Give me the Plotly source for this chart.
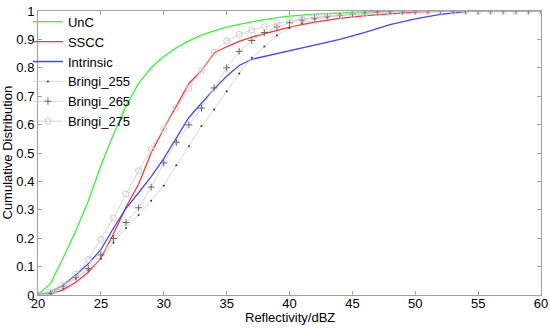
import plotly.graph_objects as go

# ---- data ----
unc_x = [20, 21, 22, 23, 24, 25, 26, 27, 28, 29, 30, 31, 32, 33, 34, 35, 36, 37, 38, 39, 40, 42, 44, 46, 48, 50, 55, 60]
unc_y = [0, 0.04, 0.13, 0.225, 0.33, 0.455, 0.565, 0.665, 0.745, 0.80, 0.84, 0.87, 0.895, 0.915, 0.93, 0.943, 0.953, 0.962, 0.970, 0.977, 0.982, 0.989, 0.994, 0.997, 0.999, 1.0, 1.0, 1.0]

sscc_x = [20, 21, 22, 23, 24, 25, 26, 27, 28, 29, 30, 31, 32, 33, 34, 35, 36, 37, 38, 40, 42, 44, 46, 48, 50, 52, 55, 60]
sscc_y = [0, 0.005, 0.018, 0.045, 0.08, 0.13, 0.215, 0.31, 0.39, 0.50, 0.585, 0.665, 0.745, 0.79, 0.852, 0.874, 0.893, 0.908, 0.92, 0.943, 0.961, 0.974, 0.984, 0.991, 0.996, 0.999, 1.0, 1.0]

intr_x = [20, 21, 22, 23, 24, 25, 26, 27, 28, 29, 30, 31, 32, 33, 34, 35, 36, 37, 38, 40, 42, 44, 46, 48, 50, 52, 54, 55, 60]
intr_y = [0, 0.01, 0.035, 0.07, 0.11, 0.16, 0.235, 0.305, 0.36, 0.417, 0.48, 0.555, 0.625, 0.675, 0.725, 0.77, 0.808, 0.83, 0.84, 0.858, 0.878, 0.9, 0.925, 0.952, 0.972, 0.988, 0.998, 1.0, 1.0]

bringi_x = list(range(20, 61))
b255_y = [0, 0.003, 0.025, 0.058, 0.087, 0.128, 0.184, 0.236, 0.282, 0.332, 0.385, 0.457, 0.524, 0.595, 0.653, 0.717,
          0.78, 0.835, 0.875, 0.914, 0.940, 0.958, 0.970, 0.978, 0.984, 0.988, 0.992, 0.995, 0.997, 0.998, 0.999,
          1, 1, 1, 1, 1, 1, 1, 1, 1, 1]
b265_y = [0, 0.005, 0.029, 0.063, 0.093, 0.141, 0.199, 0.255, 0.307, 0.38, 0.465, 0.538, 0.599, 0.658, 0.729, 0.80,
          0.858, 0.896, 0.924, 0.944, 0.958, 0.968, 0.975, 0.981, 0.985, 0.989, 0.992, 0.995, 0.997, 0.998, 0.999,
          1, 1, 1, 1, 1, 1, 1, 1, 1, 1]
b275_y = [0, 0.01, 0.036, 0.074, 0.125, 0.196, 0.271, 0.356, 0.438, 0.514, 0.585, 0.66, 0.728, 0.79, 0.855, 0.894,
          0.918, 0.933, 0.945, 0.955, 0.965, 0.972, 0.978, 0.982, 0.985, 0.988, 0.992, 0.995, 0.997, 0.999, 1.0,
          1, 1, 1, 1, 1, 1, 1, 1, 1, 1]

x_ticks = [20, 25, 30, 35, 40, 45, 50, 55, 60]
y_ticks = [0, 0.1, 0.2, 0.3, 0.4, 0.5, 0.6, 0.7, 0.8, 0.9, 1]
y_ticktext = ["0", "0.1", "0.2", "0.3", "0.4", "0.5", "0.6", "0.7", "0.8", "0.9", "1"]

FONT = "Liberation Sans, Arial"

fig = go.Figure()
fig.add_trace(go.Scatter(x=unc_x, y=unc_y, mode="lines", name="UnC",
                         line=dict(color="#3cf03c", width=1.3)))
fig.add_trace(go.Scatter(x=sscc_x, y=sscc_y, mode="lines", name="SSCC",
                         line=dict(color="#ff3535", width=1.3)))
fig.add_trace(go.Scatter(x=intr_x, y=intr_y, mode="lines", name="Intrinsic",
                         line=dict(color="#4545ff", width=1.3)))
fig.add_trace(go.Scatter(x=bringi_x, y=b255_y, mode="lines+markers", name="Bringi_255",
                         line=dict(color="#cccccc", width=0.8),
                         marker=dict(symbol="circle", size=2, color="#333333")))
fig.add_trace(go.Scatter(x=bringi_x, y=b265_y, mode="lines+markers", name="Bringi_265",
                         line=dict(color="#cccccc", width=0.8),
                         marker=dict(symbol="cross-thin", size=5, line=dict(color="#666666", width=1))))
fig.add_trace(go.Scatter(x=bringi_x, y=b275_y, mode="lines+markers", name="Bringi_275",
                         line=dict(color="#cccccc", width=0.8),
                         marker=dict(symbol="circle-open", size=6, line=dict(color="#888888", width=1))))

axis_common = dict(showline=True, linecolor="#a0a0a0", linewidth=1, mirror="ticks",
                   ticks="inside", ticklen=4, tickcolor="#a0a0a0", showgrid=False, zeroline=False,
                   tickfont=dict(family=FONT, size=13, color="black"), automargin=False,
                   ticklabeloverflow="allow")

fig.update_layout(
    width=550, height=329,
    margin=dict(l=38, r=9, t=7, b=34),
    paper_bgcolor="white", plot_bgcolor="white",
    font=dict(family=FONT, color="black"),
    showlegend=True,
    legend=dict(x=-0.02, y=1.015, xanchor="left", yanchor="top", bgcolor="rgba(255,255,255,0)",
                font=dict(size=13, family=FONT), itemwidth=30,
                tracegroupgap=0),
    xaxis=dict(range=[20, 60], tickvals=x_ticks, ticklabelstandoff=-4, **axis_common),
    yaxis=dict(range=[0, 1], tickvals=y_ticks, ticktext=y_ticktext, **axis_common),
    annotations=[
        dict(text="Reflectivity/dBZ", xref="paper", yref="paper", x=0.5, y=0,
             xanchor="center", yanchor="top", yshift=-13, showarrow=False,
             font=dict(size=13, family=FONT, color="black")),
        dict(text="Cumulative Distribution", xref="paper", yref="paper", x=0, y=0.5,
             xanchor="right", yanchor="middle", xshift=-22, textangle=-90, showarrow=False,
             font=dict(size=13, family=FONT, color="black")),
    ],
)

fig.write_html("out.html", config={"displayModeBar": False},
               post_script="document.body.style.margin='0';document.body.style.overflow='hidden';")
